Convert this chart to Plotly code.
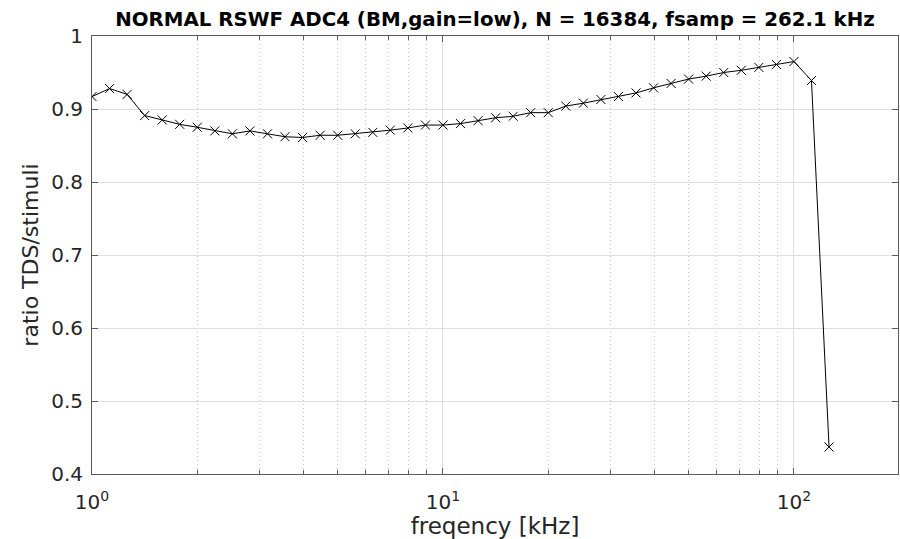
import plotly.graph_objects as go

freq_khz = [1.0, 1.122, 1.259, 1.413, 1.585, 1.778, 1.995, 2.239, 2.512, 2.818,
            3.162, 3.548, 3.981, 4.467, 5.012, 5.623, 6.310, 7.079, 7.943, 8.913,
            10.0, 11.22, 12.59, 14.13, 15.85, 17.78, 19.95, 22.39, 25.12, 28.18,
            31.62, 35.48, 39.81, 44.67, 50.12, 56.23, 63.10, 70.79, 79.43, 89.13,
            100.0, 112.2, 125.9]
ratio = [0.917, 0.928, 0.920, 0.891, 0.885, 0.879, 0.875, 0.870, 0.866, 0.870,
         0.866, 0.862, 0.861, 0.864, 0.864, 0.866, 0.868, 0.871, 0.874, 0.878,
         0.878, 0.880, 0.884, 0.888, 0.890, 0.895, 0.895, 0.904, 0.908, 0.913,
         0.917, 0.922, 0.929, 0.935, 0.941, 0.945, 0.950, 0.953, 0.957, 0.961,
         0.965, 0.939, 0.437]

x_major = [1, 10, 100]
x_major_text = ["10<sup>0</sup>", "10<sup>1</sup>", "10<sup>2</sup>"]
x_minor = [2, 3, 4, 5, 6, 7, 8, 9, 20, 30, 40, 50, 60, 70, 80, 90, 200]
y_ticks = [0.4, 0.5, 0.6, 0.7, 0.8, 0.9, 1.0]
y_text = ["0.4", "0.5", "0.6", "0.7", "0.8", "0.9", "1"]

title = "NORMAL RSWF ADC4 (BM,gain=low), N = 16384, fsamp = 262.1 kHz"

FONT = "DejaVu Sans"
TXT = "#262626"
AXL = "#5a5a5a"
GRID = "#dedede"

fig = go.Figure()
fig.add_trace(go.Scatter(
    x=freq_khz, y=ratio, mode="lines+markers",
    line=dict(color="black", width=1),
    marker=dict(symbol="x-thin-open", size=9, color="black",
                line=dict(color="black", width=1)),
    showlegend=False,
))

fig.update_layout(
    width=900, height=539,
    margin=dict(l=92, r=2, t=36, b=65),
    paper_bgcolor="white", plot_bgcolor="white",
    font=dict(family=FONT, color=TXT, size=20),
    title=dict(text="<b>" + title + "</b>", x=495 / 900, xanchor="center",
               y=1 - 19 / 539, yanchor="middle", font=dict(size=19.8, color="black")),
)
fig.update_xaxes(
    type="log", range=[0, 2.2965],
    tickvals=x_major, ticktext=x_major_text,
    ticks="inside", ticklen=6, tickcolor=AXL,
    showline=True, linecolor=AXL, linewidth=1, mirror="allticks",
    showgrid=True, gridcolor=GRID, gridwidth=1,
    zeroline=False,
    tickfont=dict(size=20),
    ticklabelstandoff=10,
    minor=dict(tickvals=x_minor, ticks="inside", ticklen=4, tickcolor=AXL,
               showgrid=True, gridcolor="#c8c8c8", griddash="1px,3px", gridwidth=1),
    title=dict(text="freqency [kHz]", font=dict(size=23), standoff=0),
)
fig.update_yaxes(
    range=[0.4, 1.0],
    tickvals=y_ticks, ticktext=y_text,
    ticks="inside", ticklen=6, tickcolor=AXL,
    showline=True, linecolor=AXL, linewidth=1, mirror="allticks",
    showgrid=True, gridcolor=GRID, gridwidth=1,
    zeroline=False,
    tickfont=dict(size=20),
    ticklabelstandoff=4,
    title=dict(text="ratio TDS/stimuli", font=dict(size=22), standoff=6),
)

fig.write_html("out.html", config={"displayModeBar": False},
               post_script="document.body.style.margin='0';")
